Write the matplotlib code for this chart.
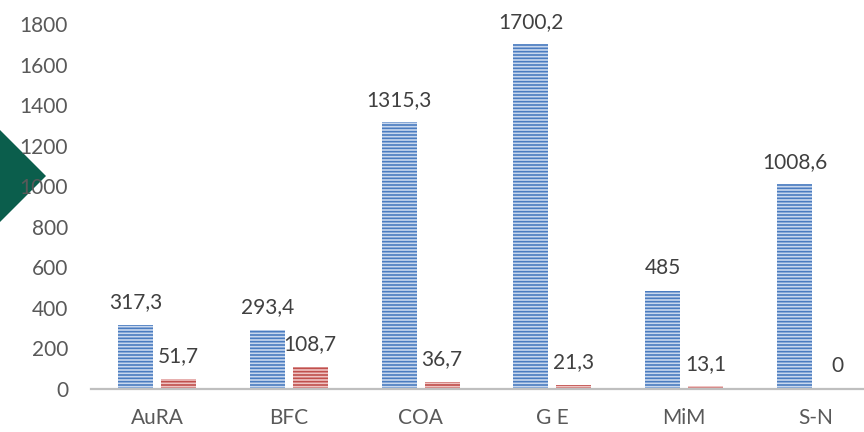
import numpy as np
import matplotlib
matplotlib.use('Agg')
import matplotlib.pyplot as plt
from matplotlib.patches import Polygon

regions = ['AuRA', 'BFC', 'COA', 'G E', 'MiM', 'S-N']
blue_vals = [317.3, 293.4, 1315.3, 1700.2, 485, 1008.6]
red_vals = [51.7, 108.7, 36.7, 21.3, 13.1, 0]
y_ticks = [0, 200, 400, 600, 800, 1000, 1200, 1400, 1600, 1800]

plt.rcParams['font.family'] = ['Lato', 'DejaVu Sans']
plt.rcParams['hatch.linewidth'] = 1.2

fig = plt.figure(figsize=(8.64, 4.32), dpi=100)
# axes runs a bit past the right edge, like the reference
ax = fig.add_axes([91 / 864, 1 - 389 / 432, 791 / 864, 365 / 432])

x = np.arange(len(regions))
w = 0.266
off = 0.163

b1 = ax.bar(x - off, blue_vals, w, facecolor='#c9d8ee', edgecolor='#4a7cc0',
            hatch='-----', linewidth=0)
b2 = ax.bar(x + off, red_vals, w, facecolor='#efc4c3', edgecolor='#c0504d',
            hatch='-----', linewidth=0)

def fmt(v):
    return f'{v:g}'.replace('.', ',')

for bars, vals in [(b1, blue_vals), (b2, red_vals)]:
    for rect, v in zip(bars, vals):
        ax.annotate(fmt(v), (rect.get_x() + rect.get_width() / 2, v),
                    xytext=(0, 9), textcoords='offset points',
                    ha='center', va='bottom', fontsize=15, color='#404040')

ax.set_xlim(-0.5, len(regions) - 0.5)
ax.set_ylim(0, 1800)
ax.set_yticks(y_ticks)
ax.set_xticks(x)
ax.set_xticklabels(regions)
ax.tick_params(axis='y', length=0, pad=16.5, labelsize=15, labelcolor='#595959')
ax.tick_params(axis='x', length=0, pad=14, labelsize=15, labelcolor='#595959')
for s in ['top', 'right', 'left']:
    ax.spines[s].set_visible(False)
ax.spines['bottom'].set_color('#bfbfbf')
ax.spines['bottom'].set_linewidth(1.6)

# green arrow shape at the left edge
tri = Polygon([(0, 1 - 130 / 432), (46 / 864, 1 - 176 / 432), (0, 1 - 222 / 432)],
              closed=True, transform=fig.transFigure, facecolor='#0b5e4c',
              edgecolor='none', zorder=-1)
fig.patches.append(tri)

fig.savefig('out.png', dpi=100)
